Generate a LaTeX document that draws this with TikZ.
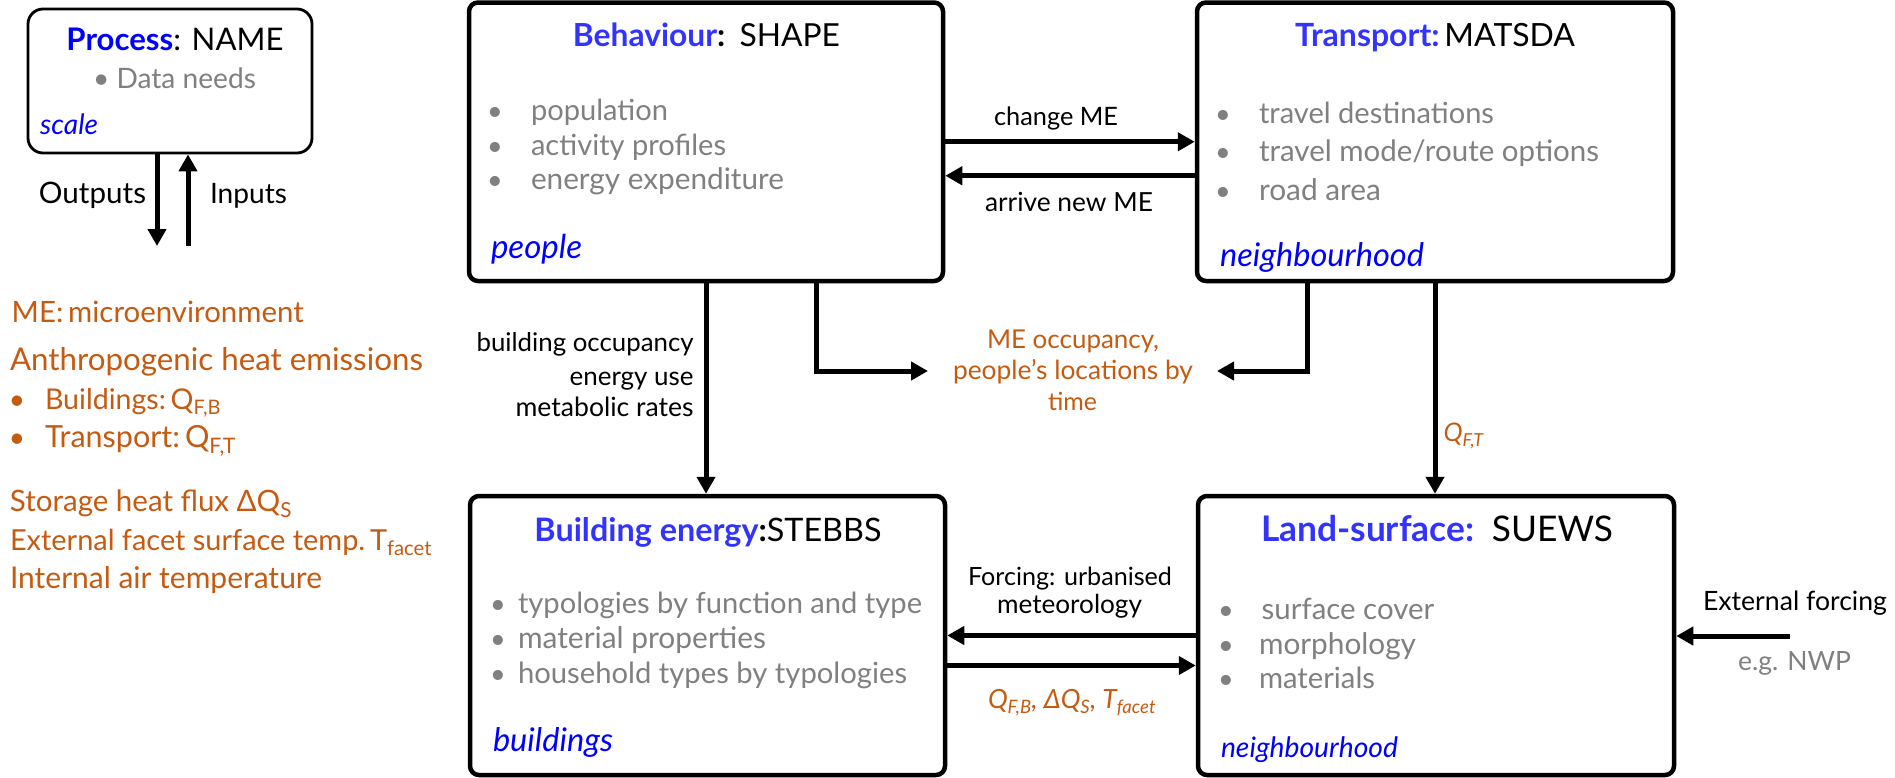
\documentclass[tikz,border=0pt]{standalone}
\usepackage{fontspec}
\usepackage{graphicx}
\setmainfont{Lato}
\usetikzlibrary{arrows.meta,calc}
\definecolor{pblue}{HTML}{0000FF}
\definecolor{tblue}{HTML}{3333FF}
\definecolor{orng}{HTML}{C55A11}
\definecolor{gry}{HTML}{808080}
\newcommand{\myfs}[1]{\fontsize{#1}{#1}\selectfont}
\newcommand{\fw}[2]{\resizebox{#1pt}{!}{\myfs{28}#2}}
\tikzset{
  modbox/.style={draw, line width=4.5pt, rounded corners=9pt, inner sep=0pt},
  legbox/.style={draw, line width=2.8pt, rounded corners=15pt, minimum width=284pt, minimum height=144pt, inner sep=0pt},
  arr/.style={line width=5pt, -{Triangle[length=17pt,width=18pt]}},
  larr/.style={line width=5pt, -{Triangle[length=17pt,width=18pt]}},
  txt/.style={inner sep=0pt, outer sep=0pt},
  lt/.style={txt, anchor=base west},
  ct/.style={txt, anchor=base},
  rt/.style={txt, anchor=base east},
  dotn/.style={txt, anchor=base, text=gry, font=\myfs{27}},
}
\begin{document}
\begin{tikzpicture}[x=1pt,y=1pt]
\useasboundingbox (0,0) rectangle (1895,-777);

% ---------- legend ----------
\node[legbox] (leg) at (170,-81) {};
\node[ct] (legT) at (175,-50.7) {\fw{217}{\textcolor{pblue}{\bfseries Process}: NAME}};
\node[lt, text=gry] (legD) at (93,-88) {\fw{163}{• Data needs}};
\node[lt, text=pblue] (legS) at (40,-134) {\fw{58}{\itshape scale}};
\coordinate (outend) at (157,-246);
\coordinate (inend) at (188,-246);
\draw[larr] (leg.south -| outend) -- (outend);
\draw[larr] (inend) -- (inend |- leg.south);
\node[rt] (legO) at (146,-203) {\fw{107}{Outputs}};
\node[lt] (legI) at (210,-203) {\fw{77}{Inputs}};

\node[lt, text=orng] (k1) at (11.7,-322.7) {\fw{292}{ME:\,microenvironment}};
\node[lt, text=orng] (k2) at (10,-370) {\fw{413}{Anthropogenic heat emissions}};
\node[lt, text=orng, font=\myfs{28}] (k3b) at (9,-409.3) {•};
\node[lt, text=orng] (k3) at (45,-409.3) {\fw{176}{Buildings:\,Q\textsubscript{F,B}}};
\node[lt, text=orng, font=\myfs{28}] (k4b) at (9,-447.7) {•};
\node[lt, text=orng] (k4) at (45,-447.7) {\fw{191}{Transport:\,Q\textsubscript{F,T}}};
\node[lt, text=orng] (k5) at (10,-511.7) {\fw{282}{Storage heat flux ΔQ\textsubscript{S}}};
\node[lt, text=orng] (k6) at (10,-550) {\fw{422}{External facet surface temp.\,T\textsubscript{facet}}};
\node[lt, text=orng] (k7) at (10,-588) {\fw{312}{Internal air temperature}};

% ---------- boxes ----------
\node[modbox, minimum width=474pt, minimum height=278.5pt] (beh) at (706,-141.75) {};
\node[modbox, minimum width=476pt, minimum height=278.5pt] (tra) at (1435,-141.75) {};
\node[modbox, minimum width=475pt, minimum height=279pt] (bld) at (707.5,-635.5) {};
\node[modbox, minimum width=476pt, minimum height=279pt] (lnd) at (1436,-635.5) {};

% Behaviour
\node[ct] (behT) at (706.5,-46.7) {\fw{267}{\textcolor{tblue}{\bfseries Behaviour}\textbf{:}\hspace{0.45em}SHAPE}};
\node[dotn] (beh1d) at (495,-120) {•};
\node[lt, text=gry] (beh1) at (531,-120) {\fw{137}{population}};
\node[dotn] (beh2d) at (495,-155) {•};
\node[lt, text=gry] (beh2) at (531,-155) {\fw{195}{activity profiles}};
\node[dotn] (beh3d) at (495,-189) {•};
\node[lt, text=gry] (beh3) at (531,-189) {\fw{253}{energy expenditure}};
\node[lt, text=pblue] (behS) at (491,-258) {\fw{91}{\itshape people}};

% Transport
\node[ct] (traT) at (1435,-46.7) {\fw{280}{\textcolor{tblue}{\bfseries Transport:}\hspace{0.15em}MATSDA}};
\node[dotn] (tra1d) at (1223,-123) {•};
\node[lt, text=gry] (tra1) at (1259,-123) {\fw{235}{travel destinations}};
\node[dotn] (tra2d) at (1223,-161.7) {•};
\node[lt, text=gry] (tra2) at (1259,-161.7) {\fw{340}{travel mode/route options}};
\node[dotn] (tra3d) at (1223,-200) {•};
\node[lt, text=gry] (tra3) at (1259,-200) {\fw{122}{road area}};
\node[lt, text=pblue] (traS) at (1220,-266.7) {\fw{204}{\itshape neighbourhood}};

% Building energy
\node[ct] (bldT) at (708,-541.7) {\fw{347}{\textcolor{tblue}{\bfseries Building energy}\textbf{:}STEBBS}};
\node[dotn] (bld1d) at (498,-613) {•};
\node[lt, text=gry] (bld1) at (518,-613) {\fw{404}{typologies by function and type}};
\node[dotn] (bld2d) at (498,-648) {•};
\node[lt, text=gry] (bld2) at (518,-648) {\fw{248}{material properties}};
\node[dotn] (bld3d) at (498,-683) {•};
\node[lt, text=gry] (bld3) at (518,-683) {\fw{389}{household types by typologies}};
\node[lt, text=pblue] (bldS) at (493,-751.7) {\fw{120}{\itshape buildings}};

% Land-surface
\node[ct] (lndT) at (1437,-541.7) {\fw{352}{\textcolor{tblue}{\bfseries Land-surface:}\hspace{0.5em}SUEWS}};
\node[dotn] (lnd1d) at (1226,-619.3) {•};
\node[lt, text=gry] (lnd1) at (1261.7,-619.3) {\fw{172.5}{surface cover}};
\node[dotn] (lnd2d) at (1226,-654) {•};
\node[lt, text=gry] (lnd2) at (1259,-654) {\fw{157}{morphology}};
\node[dotn] (lnd3d) at (1226,-688) {•};
\node[lt, text=gry] (lnd3) at (1259,-688) {\fw{116}{materials}};
\node[lt, text=pblue] (lndS) at (1221,-757) {\fw{177}{\itshape neighbourhood}};

% ---------- connectors ----------
\draw[arr] (beh.east) -- (tra.west);
\draw[arr] ([yshift=-34pt]tra.west) -- ([yshift=-34pt]beh.east);
\node[ct] (lchg) at (1056,-125) {\fw{124}{change ME}};
\node[ct] (larv) at (1069,-211.7) {\fw{168}{arrive new ME}};

\draw[arr] (beh.south) -- (beh.south |- bld.north);
\node[rt] (locc1) at (693.6,-351.7) {\fw{217}{building occupancy}};
\node[rt] (locc2) at (693.6,-385) {\fw{124}{energy use}};
\node[rt] (locc3) at (693.6,-416.7) {\fw{178}{metabolic rates}};

\node[ct, text=orng] (me1) at (1073,-348) {\fw{172}{ME occupancy,}};
\node[ct, text=orng] (me2) at (1073,-379) {\fw{240}{people’s locations by}};
\node[ct, text=orng] (me3) at (1072.5,-410) {\fw{49}{time}};
\coordinate (meL) at (928,-371);
\coordinate (meR) at (1217,-371);
\draw[arr] ([xshift=110pt]beh.south) |- (meL);
\draw[arr] ([xshift=-128pt]tra.south) |- (meR);

\draw[arr] (tra.south) -- (tra.south |- lnd.north);
\node[lt, text=orng] (lqft) at (1443.6,-441.7) {\fw{40}{\itshape Q\textsubscript{F,T}}};

\draw[arr] (lnd.west) -- (bld.east);
\draw[arr] ([yshift=-30pt]bld.east) -- ([yshift=-30pt]lnd.west);
\node[ct] (lforc1) at (1070,-585) {\fw{204}{Forcing: urbanised}};
\node[ct] (lforc2) at (1069.5,-613) {\fw{145}{meteorology}};
\node[ct, text=orng] (lqfb) at (1072,-708) {\fw{168}{\itshape Q\textsubscript{F,B}, ΔQ\textsubscript{S}, T\textsubscript{facet}}};

\coordinate (ext) at (1790,-636);
\draw[arr] (ext) -- (ext -| lnd.east);
\node[ct] (lext) at (1795,-610) {\fw{184}{External forcing}};
\node[ct, text=gry] (lnwp) at (1794.5,-670) {\fw{113}{e.g. NWP}};
\end{tikzpicture}
\end{document}
